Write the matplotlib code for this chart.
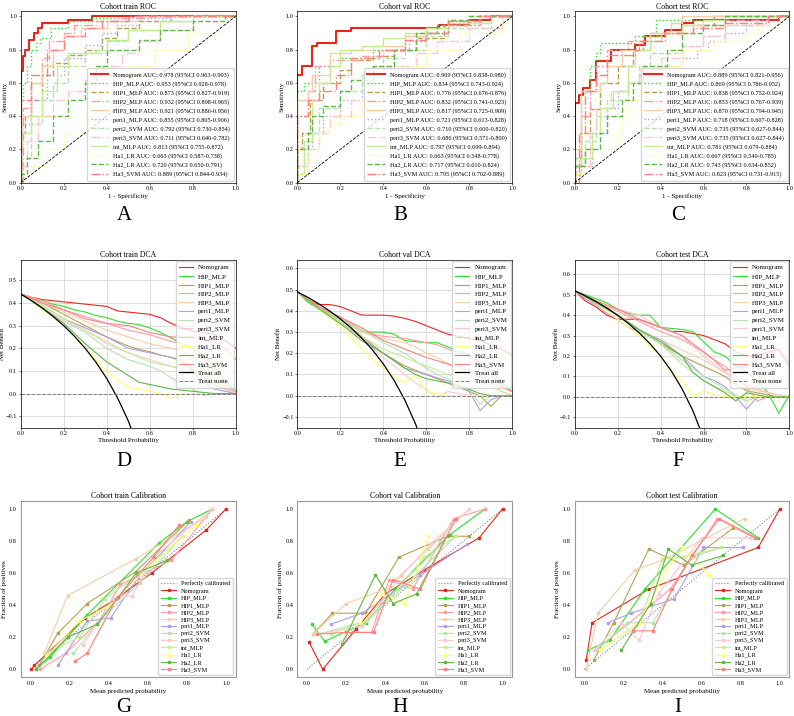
import matplotlib
matplotlib.use("Agg")
import matplotlib.pyplot as plt

plt.rcParams['font.family'] = ['Liberation Serif', 'DejaVu Serif']

models = ["Nomogram", "HIP_MLP", "HIP1_MLP", "HIP2_MLP", "HIP3_MLP", "peri1_MLP",
          "peri2_SVM", "peri3_SVM", "int_MLP", "Ha1_LR", "Ha2_LR", "Ha3_SVM"]
colors = ["#e8261e", "#2ee02e", "#b5a24e", "#ff9ca6", "#f7cfa6", "#b29ee2",
          "#b6e2b4", "#ffc6cf", "#c4ec92", "#ffff70", "#5fb845", "#ff8080"]
roc_styles = ["-", ":", "--", "-.", "-", ":", "--", "-.", "-", ":", "--", "-."]

# ---------------- AUC values ----------------
auc_train = [0.978, 0.953, 0.873, 0.932, 0.921, 0.855, 0.792, 0.711, 0.813, 0.663, 0.720, 0.889]
ci_lo_train = [0.963, 0.928, 0.827, 0.898, 0.886, 0.805, 0.730, 0.640, 0.755, 0.587, 0.650, 0.844]
ci_hi_train = [0.993, 0.978, 0.919, 0.965, 0.956, 0.906, 0.854, 0.782, 0.872, 0.738, 0.791, 0.934]
auc_val = [0.909, 0.834, 0.776, 0.832, 0.817, 0.721, 0.710, 0.686, 0.797, 0.663, 0.717, 0.795]
ci_lo_val = [0.838, 0.743, 0.676, 0.741, 0.725, 0.613, 0.600, 0.571, 0.699, 0.548, 0.610, 0.702]
ci_hi_val = [0.980, 0.924, 0.876, 0.923, 0.909, 0.828, 0.820, 0.800, 0.894, 0.778, 0.824, 0.889]
auc_test = [0.889, 0.869, 0.838, 0.853, 0.870, 0.718, 0.735, 0.735, 0.781, 0.667, 0.743, 0.823]
ci_lo_test = [0.821, 0.786, 0.752, 0.767, 0.794, 0.607, 0.627, 0.627, 0.679, 0.549, 0.634, 0.731]
ci_hi_test = [0.956, 0.952, 0.924, 0.939, 0.945, 0.828, 0.844, 0.844, 0.884, 0.785, 0.852, 0.915]

# ---------------- ROC curves (fpr at which tpr jumps, tpr after jump) ----------------
roc_train_fpr = [
    [0, 0, 0.01, 0.02, 0.04, 0.06, 0.08, 0.10, 0.22, 0.33, 1.0],
    [0, 0, 0.01, 0.03, 0.05, 0.07, 0.09, 0.14, 0.22, 0.33, 0.55, 1.0],
    [0, 0, 0.02, 0.05, 0.10, 0.15, 0.22, 0.30, 0.38, 0.45, 0.55, 0.70, 1.0],
    [0, 0.01, 0.05, 0.10, 0.13, 0.20, 0.25, 0.35, 0.45, 0.60, 1.0],
    [0, 0, 0.05, 0.10, 0.15, 0.20, 0.28, 0.40, 0.55, 1.0],
    [0, 0, 0.05, 0.12, 0.20, 0.30, 0.38, 0.45, 0.55, 0.70, 1.0],
    [0, 0, 0.05, 0.10, 0.15, 0.22, 0.30, 0.40, 0.50, 0.65, 0.80, 1.0],
    [0, 0, 0.03, 0.08, 0.15, 0.22, 0.30, 0.38, 0.47, 0.55, 0.65, 0.80, 1.0],
    [0, 0, 0.05, 0.10, 0.17, 0.22, 0.35, 0.40, 0.50, 0.65, 0.80, 1.0],
    [0, 0, 0.05, 0.12, 0.20, 0.30, 0.33, 0.40, 0.50, 0.62, 0.78, 0.92, 1.0],
    [0, 0, 0.03, 0.08, 0.15, 0.22, 0.30, 0.35, 0.40, 0.55, 0.65, 0.80, 0.95, 1.0],
    [0, 0, 0.05, 0.12, 0.20, 0.30, 0.38, 0.50, 1.0],
]
roc_train_tpr = [
    [0, 0.67, 0.76, 0.80, 0.86, 0.90, 0.93, 0.96, 0.98, 1.0, 1.0],
    [0, 0.50, 0.60, 0.70, 0.80, 0.84, 0.87, 0.93, 0.97, 0.99, 1.0, 1.0],
    [0, 0.30, 0.40, 0.50, 0.65, 0.72, 0.77, 0.80, 0.87, 0.93, 0.97, 1.0, 1.0],
    [0, 0.45, 0.60, 0.75, 0.85, 0.90, 0.95, 0.97, 0.99, 1.0, 1.0],
    [0, 0.40, 0.60, 0.70, 0.80, 0.88, 0.93, 0.97, 1.0, 1.0],
    [0, 0.35, 0.50, 0.65, 0.75, 0.83, 0.90, 0.95, 0.99, 1.0, 1.0],
    [0, 0.15, 0.35, 0.50, 0.60, 0.70, 0.78, 0.85, 0.92, 0.97, 1.0, 1.0],
    [0, 0.10, 0.25, 0.40, 0.50, 0.55, 0.62, 0.70, 0.78, 0.85, 0.92, 1.0, 1.0],
    [0, 0.30, 0.40, 0.55, 0.70, 0.78, 0.80, 0.86, 0.92, 0.97, 1.0, 1.0],
    [0, 0.0, 0.10, 0.20, 0.30, 0.40, 0.50, 0.60, 0.70, 0.80, 0.90, 1.0, 1.0],
    [0, 0.05, 0.15, 0.25, 0.40, 0.50, 0.60, 0.70, 0.80, 0.86, 0.92, 0.97, 1.0, 1.0],
    [0, 0.50, 0.65, 0.80, 0.88, 0.93, 0.97, 1.0, 1.0],
]
roc_val_fpr = [
    [0, 0, 0.02, 0.07, 0.09, 0.18, 0.25, 0.66, 0.80, 0.90, 1.0],
    [0, 0, 0.03, 0.10, 0.20, 0.35, 0.50, 0.60, 0.70, 0.85, 1.0],
    [0, 0, 0.02, 0.06, 0.12, 0.20, 0.25, 0.35, 0.45, 0.55, 0.68, 0.80, 1.0],
    [0, 0, 0.05, 0.08, 0.15, 0.30, 0.40, 0.50, 0.60, 0.70, 0.85, 1.0],
    [0, 0, 0.05, 0.07, 0.15, 0.25, 0.35, 0.50, 0.60, 0.70, 0.85, 1.0],
    [0, 0, 0.03, 0.07, 0.12, 0.20, 0.30, 0.35, 0.45, 0.52, 0.60, 0.70, 0.85, 1.0],
    [0, 0, 0.05, 0.10, 0.20, 0.30, 0.40, 0.50, 0.60, 0.70, 0.90, 1.0],
    [0, 0, 0.05, 0.10, 0.15, 0.25, 0.35, 0.45, 0.55, 0.65, 0.80, 0.95, 1.0],
    [0, 0, 0.03, 0.07, 0.10, 0.15, 0.20, 0.30, 0.40, 0.50, 0.60, 0.70, 0.90, 1.0],
    [0, 0, 0.05, 0.10, 0.15, 0.20, 0.30, 0.40, 0.50, 0.60, 0.75, 0.95, 1.0],
    [0, 0, 0.05, 0.07, 0.12, 0.20, 0.25, 0.35, 0.45, 0.55, 0.65, 0.70, 0.80, 1.0],
    [0, 0, 0.05, 0.10, 0.18, 0.25, 0.38, 0.50, 0.60, 0.70, 0.85, 1.0],
]
roc_val_tpr = [
    [0, 0.65, 0.70, 0.82, 0.84, 0.91, 0.93, 0.95, 0.98, 1.0, 1.0],
    [0, 0.55, 0.60, 0.70, 0.75, 0.80, 0.88, 0.93, 0.97, 1.0, 1.0],
    [0, 0.20, 0.30, 0.50, 0.60, 0.68, 0.74, 0.76, 0.80, 0.87, 0.95, 1.0, 1.0],
    [0, 0.40, 0.55, 0.70, 0.74, 0.76, 0.80, 0.86, 0.90, 0.95, 1.0, 1.0],
    [0, 0.50, 0.55, 0.65, 0.78, 0.80, 0.82, 0.88, 0.93, 0.97, 1.0, 1.0],
    [0, 0.10, 0.20, 0.30, 0.40, 0.50, 0.60, 0.70, 0.80, 0.85, 0.90, 0.95, 1.0, 1.0],
    [0, 0.10, 0.30, 0.45, 0.55, 0.65, 0.75, 0.80, 0.88, 0.93, 1.0, 1.0],
    [0, 0.05, 0.20, 0.30, 0.40, 0.50, 0.60, 0.70, 0.78, 0.85, 0.93, 1.0, 1.0],
    [0, 0.05, 0.25, 0.50, 0.60, 0.70, 0.80, 0.82, 0.87, 0.90, 0.93, 0.96, 1.0, 1.0],
    [0, 0.05, 0.20, 0.30, 0.35, 0.40, 0.50, 0.60, 0.70, 0.80, 0.90, 1.0, 1.0],
    [0, 0.20, 0.30, 0.40, 0.46, 0.55, 0.62, 0.70, 0.80, 0.90, 0.95, 0.98, 1.0, 1.0],
    [0, 0.40, 0.50, 0.55, 0.65, 0.75, 0.80, 0.86, 0.90, 0.97, 1.0, 1.0],
]
roc_test_fpr = [
    [0, 0, 0.02, 0.04, 0.07, 0.10, 0.17, 0.28, 0.33, 0.42, 0.50, 0.55, 0.95, 1.0],
    [0, 0, 0.03, 0.07, 0.10, 0.12, 0.28, 0.38, 0.65, 1.0],
    [0, 0, 0.03, 0.07, 0.12, 0.20, 0.27, 0.32, 0.40, 0.50, 0.65, 1.0],
    [0, 0, 0.03, 0.07, 0.10, 0.15, 0.25, 0.35, 0.55, 0.70, 0.90, 1.0],
    [0, 0, 0.03, 0.12, 0.15, 0.22, 0.35, 0.45, 0.50, 1.0],
    [0, 0, 0.08, 0.15, 0.20, 0.25, 0.30, 0.40, 0.50, 0.57, 0.62, 0.70, 0.80, 0.90, 1.0],
    [0, 0, 0.05, 0.10, 0.15, 0.25, 0.30, 0.35, 0.50, 0.60, 0.70, 0.85, 1.0],
    [0, 0, 0.07, 0.10, 0.17, 0.25, 0.30, 0.40, 0.50, 0.60, 0.70, 0.90, 1.0],
    [0, 0, 0.03, 0.08, 0.12, 0.18, 0.25, 0.28, 0.35, 0.40, 0.50, 0.60, 0.70, 1.0],
    [0, 0, 0.05, 0.20, 0.22, 0.25, 0.30, 0.38, 0.50, 0.65, 0.80, 0.85, 0.95, 1.0],
    [0, 0, 0.05, 0.12, 0.15, 0.22, 0.27, 0.32, 0.43, 0.50, 0.60, 0.70, 1.0],
    [0, 0.02, 0.05, 0.10, 0.15, 0.28, 0.30, 0.42, 0.55, 0.70, 0.90, 1.0],
]
roc_test_tpr = [
    [0, 0.48, 0.53, 0.57, 0.62, 0.73, 0.80, 0.83, 0.88, 0.92, 0.96, 0.98, 1.0, 1.0],
    [0, 0.15, 0.55, 0.70, 0.78, 0.84, 0.88, 0.98, 1.0, 1.0],
    [0, 0.10, 0.30, 0.44, 0.60, 0.70, 0.80, 0.88, 0.90, 0.95, 1.0, 1.0],
    [0, 0.10, 0.40, 0.55, 0.70, 0.80, 0.85, 0.90, 0.95, 0.98, 1.0, 1.0],
    [0, 0.20, 0.55, 0.60, 0.70, 0.80, 0.90, 0.96, 1.0, 1.0],
    [0, 0.10, 0.30, 0.45, 0.55, 0.60, 0.65, 0.70, 0.75, 0.80, 0.85, 0.90, 0.95, 1.0, 1.0],
    [0, 0.10, 0.25, 0.40, 0.50, 0.60, 0.70, 0.78, 0.82, 0.88, 0.95, 1.0, 1.0],
    [0, 0.10, 0.30, 0.45, 0.55, 0.60, 0.68, 0.75, 0.82, 0.88, 0.95, 1.0, 1.0],
    [0, 0.05, 0.15, 0.30, 0.45, 0.55, 0.70, 0.80, 0.85, 0.90, 0.95, 0.98, 1.0, 1.0],
    [0, 0.05, 0.20, 0.30, 0.40, 0.50, 0.60, 0.70, 0.80, 0.85, 0.90, 0.95, 1.0, 1.0],
    [0, 0.10, 0.20, 0.30, 0.40, 0.50, 0.60, 0.70, 0.80, 0.90, 0.95, 1.0, 1.0],
    [0, 0.30, 0.55, 0.65, 0.77, 0.80, 0.85, 0.90, 0.93, 0.96, 1.0, 1.0],
]

# ---------------- DCA net benefit ----------------
dca_thr = [0.0, 0.05, 0.1, 0.15, 0.2, 0.25, 0.3, 0.35, 0.4, 0.45, 0.5,
           0.55, 0.6, 0.65, 0.7, 0.75, 0.8, 0.85, 0.9, 0.95, 1.0]
dca_train = [
    [.44, .425, .415, .41, .405, .40, .395, .39, .385, .365, .36, .355, .35, .335, .31, .29, .275, .27, .26, .235, .20],
    [.44, .42, .41, .395, .385, .37, .36, .345, .335, .32, .31, .305, .29, .27, .245, .22, .20, .17, .12, .06, .01],
    [.44, .42, .40, .375, .35, .325, .30, .275, .25, .23, .21, .195, .185, .17, .16, .14, .11, .07, .04, .02, .0],
    [.44, .425, .41, .39, .37, .355, .34, .325, .31, .295, .28, .27, .26, .245, .23, .22, .19, .15, .10, .05, .0],
    [.44, .42, .40, .38, .36, .34, .32, .30, .28, .265, .25, .235, .22, .21, .20, .19, .15, .10, .06, .03, .0],
    [.44, .415, .39, .36, .33, .31, .29, .27, .25, .225, .20, .19, .18, .17, .16, .15, .10, .05, .02, .01, .0],
    [.44, .41, .38, .35, .32, .295, .27, .235, .20, .175, .15, .135, .12, .10, .07, .04, .02, -.01, .0, .0, .0],
    [.44, .41, .38, .35, .32, .30, .28, .25, .22, .20, .18, .165, .15, .135, .12, .11, .10, .05, .03, .02, .0],
    [.44, .415, .39, .36, .33, .305, .28, .255, .23, .205, .18, .16, .14, .13, .12, .11, .10, .08, .05, .03, .02],
    [.44, .41, .37, .34, .30, .25, .20, .15, .10, .06, .03, .02, .01, .0, -.02, .0, .0, .0, .0, .0, .0],
    [.44, .41, .38, .345, .31, .265, .22, .18, .14, .11, .08, .05, .04, .03, .02, .015, .01, .005, .0, .0, .0],
    [.44, .42, .40, .385, .37, .35, .33, .32, .31, .305, .30, .285, .27, .26, .25, .25, .25, .24, .23, .20, .15],
]
dca_val = [
    [.49, .45, .43, .43, .42, .40, .38, .38, .38, .375, .365, .35, .33, .31, .29, .28, .27, .26, .24, .22, .19],
    [.49, .44, .41, .39, .36, .33, .30, .30, .30, .29, .26, .255, .25, .25, .23, .21, .19, .16, .12, .06, .02],
    [.49, .45, .41, .385, .36, .32, .28, .24, .20, .17, .14, .12, .10, .08, .06, .04, .02, .0, -.05, .0, .0],
    [.49, .45, .42, .395, .37, .34, .31, .29, .28, .275, .27, .26, .25, .24, .22, .20, .18, .15, .10, .05, .02],
    [.49, .455, .42, .39, .36, .33, .30, .285, .27, .26, .25, .23, .20, .18, .15, .12, .10, .07, .05, .02, .0],
    [.49, .45, .41, .38, .35, .31, .27, .235, .20, .165, .13, .115, .10, .085, .07, .05, .02, -.07, -.02, .0, .0],
    [.49, .455, .42, .39, .36, .335, .31, .28, .25, .225, .20, .165, .13, .10, .08, .05, .03, -.04, .0, .0, .0],
    [.49, .45, .41, .375, .34, .305, .27, .225, .18, .14, .10, .06, .03, -.01, .02, .01, .0, .0, .0, .0, .0],
    [.49, .45, .41, .38, .35, .315, .28, .25, .22, .20, .18, .16, .14, .12, .10, .09, .08, .06, .05, .02, .0],
    [.49, .45, .41, .37, .33, .275, .22, .175, .13, .09, .06, .10, .02, .01, .0, .0, .0, .0, .0, .0, .0],
    [.49, .45, .41, .375, .34, .30, .26, .23, .20, .165, .13, .10, .08, .07, .06, .045, .03, .01, .0, .0, .0],
    [.49, .455, .42, .395, .37, .345, .32, .29, .26, .24, .22, .20, .18, .165, .15, .135, .12, .09, .06, .04, .02],
]
dca_test = [
    [.52, .47, .44, .40, .38, .38, .38, .36, .34, .32, .32, .31, .30, .28, .26, .22, .20, .20, .22, .23, .15],
    [.52, .50, .48, .46, .43, .41, .40, .40, .34, .335, .33, .32, .27, .22, .20, .15, .12, .08, .02, -.08, .01],
    [.52, .49, .47, .435, .40, .365, .33, .295, .26, .23, .20, .175, .15, .125, .10, .06, .03, .02, .01, .0, .0],
    [.52, .49, .46, .44, .42, .395, .37, .345, .32, .30, .28, .25, .22, .18, .15, .10, .05, -.02, .0, .0, .0],
    [.52, .49, .46, .43, .40, .365, .33, .305, .28, .255, .23, .205, .18, .15, .12, .08, .05, .03, .02, .01, .0],
    [.52, .48, .45, .41, .38, .34, .32, .30, .28, .24, .20, .15, .10, .08, .05, .0, -.06, .0, .0, .0, .0],
    [.52, .49, .46, .43, .40, .36, .32, .29, .26, .22, .18, .14, .10, .07, .04, .01, -.02, .0, .0, .0, .0],
    [.52, .49, .46, .445, .43, .415, .40, .37, .34, .32, .30, .25, .20, .16, .12, .09, .06, .04, .02, .01, .0],
    [.52, .495, .47, .435, .40, .365, .33, .295, .26, .21, .16, .12, .08, .05, .03, .0, -.02, .0, .0, .0, .0],
    [.52, .49, .46, .42, .38, .34, .30, .25, .20, .12, .08, .0, .03, .01, .0, .0, .0, .0, .0, .0, .0],
    [.52, .49, .46, .43, .40, .365, .33, .30, .27, .235, .20, .12, .08, .05, .02, -.02, .02, .01, .0, .0, .0],
    [.52, .495, .47, .45, .43, .405, .38, .36, .34, .32, .30, .26, .22, .18, .13, .14, .15, .18, .20, .24, .16],
]
treat_all_thr = [0.0, 0.05, 0.1, 0.15, 0.2, 0.25, 0.3, 0.35, 0.4, 0.45, 0.5, 0.55, 0.6]
treat_all_train = [.44, .4105, .3778, .3412, .30, .2533, .20, .1385, .0667, -.0182, -.12, -.2444, -.40]
treat_all_val = [.49, .4632, .4333, .40, .3625, .32, .2714, .2154, .15, .0727, -.02, -.1333, -.275]
treat_all_test = [.52, .4947, .4667, .4353, .40, .36, .3143, .2615, .20, .1273, .04, -.0667, -.20]

# ---------------- Calibration ----------------
cal_train_x = [
    [0.005, 0.02, 0.28, 0.45, 0.62, 0.90, 1.0],
    [0.026, 0.10, 0.29, 0.66, 0.80, 0.93],
    [0.045, 0.14, 0.29, 0.54, 0.81],
    [0.05, 0.18, 0.35, 0.46, 0.72, 0.93],
    [0.07, 0.19, 0.54, 0.90],
    [0.14, 0.29, 0.41, 0.55, 0.82],
    [0.22, 0.35, 0.56, 0.78],
    [0.27, 0.42, 0.52, 0.63, 0.93],
    [0.08, 0.25, 0.38, 0.56, 0.78],
    [0.08, 0.25, 0.41, 0.60, 0.85],
    [0.03, 0.19, 0.34, 0.45, 0.54, 0.70],
    [0.23, 0.29, 0.44, 0.63, 0.76],
]
cal_train_y = [
    [0.0, 0.025, 0.32, 0.45, 0.60, 0.87, 1.0],
    [0.0, 0.075, 0.34, 0.79, 0.92, 1.0],
    [0.025, 0.225, 0.41, 0.61, 0.93],
    [0.0, 0.10, 0.30, 0.53, 0.68, 1.0],
    [0.10, 0.46, 0.69, 0.95],
    [0.025, 0.30, 0.32, 0.57, 0.92],
    [0.10, 0.30, 0.54, 0.83],
    [0.15, 0.44, 0.46, 0.70, 1.0],
    [0.10, 0.20, 0.44, 0.60, 0.83],
    [0.08, 0.30, 0.40, 0.63, 0.90],
    [0.0, 0.20, 0.28, 0.45, 0.60, 0.68],
    [0.05, 0.10, 0.44, 0.70, 0.90],
]
cal_val_x = [
    [0.01, 0.08, 0.25, 0.40, 0.60, 0.88, 1.0],
    [0.025, 0.09, 0.30, 0.45, 0.73, 0.91],
    [0.03, 0.13, 0.30, 0.47, 0.72, 0.83],
    [0.20, 0.33, 0.42, 0.54, 0.75, 0.91],
    [0.03, 0.20, 0.40, 0.62, 0.83],
    [0.12, 0.28, 0.58, 0.82],
    [0.06, 0.30, 0.50, 0.76],
    [0.05, 0.28, 0.48, 0.63, 0.83],
    [0.12, 0.30, 0.44, 0.60, 0.76],
    [0.27, 0.39, 0.50, 0.62],
    [0.18, 0.35, 0.44, 0.56, 0.72],
    [0.05, 0.20, 0.34, 0.44, 0.58, 0.76],
]
cal_val_y = [
    [0.17, 0.0, 0.25, 0.47, 0.62, 0.82, 1.0],
    [0.28, 0.175, 0.29, 0.50, 0.84, 1.0],
    [0.22, 0.35, 0.35, 0.70, 0.83, 0.83],
    [0.23, 0.23, 0.56, 0.50, 0.94, 1.0],
    [0.22, 0.41, 0.50, 0.75, 1.0],
    [0.28, 0.35, 0.59, 0.78],
    [0.22, 0.30, 0.52, 0.83],
    [0.22, 0.27, 0.58, 0.78, 1.0],
    [0.22, 0.30, 0.47, 0.70, 0.83],
    [0.29, 0.47, 0.41, 0.83],
    [0.16, 0.59, 0.41, 0.47, 0.84],
    [0.22, 0.23, 0.23, 0.56, 0.50, 0.94],
]
cal_test_x = [
    [0.01, 0.04, 0.33, 0.89, 1.0],
    [0.02, 0.13, 0.31, 0.67, 0.89],
    [0.05, 0.15, 0.33, 0.51, 0.76],
    [0.06, 0.44, 0.55, 0.68, 0.87],
    [0.01, 0.07, 0.26, 0.40, 0.82],
    [0.12, 0.24, 0.46, 0.61, 0.81],
    [0.06, 0.22, 0.35, 0.55, 0.70],
    [0.05, 0.19, 0.28, 0.38, 0.60, 0.85],
    [0.08, 0.28, 0.40, 0.50, 0.70],
    [0.08, 0.28, 0.42, 0.50, 0.64],
    [0.19, 0.34, 0.43, 0.55, 0.71],
    [0.25, 0.35, 0.45, 0.55, 0.69, 0.88],
]
cal_test_y = [
    [0.06, 0.29, 0.50, 0.76, 1.0],
    [0.12, 0.18, 0.50, 1.0, 0.82],
    [0.06, 0.29, 0.75, 0.65, 0.88],
    [0.12, 0.50, 0.70, 0.94, 0.82],
    [0.0, 0.35, 0.62, 0.68, 0.94],
    [0.29, 0.35, 0.44, 0.76, 0.76],
    [0.12, 0.29, 0.29, 0.70, 0.76],
    [0.12, 0.29, 0.18, 0.47, 0.82, 0.82],
    [0.12, 0.29, 0.69, 0.70, 0.76],
    [0.12, 0.29, 0.62, 0.76, 0.59],
    [0.12, 0.41, 0.75, 0.65, 0.71],
    [0.24, 0.24, 0.50, 0.71, 0.94, 0.82],
]

cohorts = ["train", "val", "test"]
panel_letters = [["A", "B", "C"], ["D", "E", "F"], ["G", "H", "I"]]

W, H = 794, 716
fig = plt.figure(figsize=(W / 100, H / 100), dpi=100)


def rect(left, top, w, h):
    return [left / W, 1 - (top + h) / H, w / W, h / H]


col_left = [20.7, 297.3, 574.5]
AXW = 215
TICK_FS = 4.5
LAB_FS = 5.0
TITLE_FS = 5.6


def style_ticks(ax):
    ax.tick_params(labelsize=TICK_FS, length=1.5, width=0.4, pad=1.2)


roc_data = [(roc_train_fpr, roc_train_tpr, auc_train, ci_lo_train, ci_hi_train),
            (roc_val_fpr, roc_val_tpr, auc_val, ci_lo_val, ci_hi_val),
            (roc_test_fpr, roc_test_tpr, auc_test, ci_lo_test, ci_hi_test)]
dca_data = [(dca_train, treat_all_train), (dca_val, treat_all_val), (dca_test, treat_all_test)]
cal_data = [(cal_train_x, cal_train_y), (cal_val_x, cal_val_y), (cal_test_x, cal_test_y)]

for c in range(3):
    # ---------- ROC ----------
    ax = fig.add_axes(rect(col_left[c], 10.5, AXW, 172.2))
    fprs, tprs, aucs, los, his = roc_data[c]
    for i, m in enumerate(models):
        lw = 1.5 if i == 0 else 1.0
        ax.plot(fprs[i], tprs[i], drawstyle='steps-post', color=colors[i],
                ls=roc_styles[i], lw=lw,
                label=f"{m} AUC: {aucs[i]:.3f} (95%CI {los[i]:.3f}-{his[i]:.3f})")
    ax.plot([0, 1], [0, 1], color='black', ls='--', lw=0.6)
    ax.set_xlim(0, 1)
    ax.set_ylim(0, 1.035)
    ax.set_title(f"Cohort {cohorts[c]} ROC", fontsize=TITLE_FS, pad=1.2)
    ax.set_xlabel("1 - Specificity", fontsize=LAB_FS, labelpad=1.5)
    ax.set_ylabel("Sensitivity", fontsize=LAB_FS, labelpad=1.0)
    style_ticks(ax)
    for s in ax.spines.values():
        s.set_linewidth(0.5)
    ax.legend(loc='lower right', fontsize=4.5, labelspacing=0.52, handlelength=2.8,
              borderpad=0.6, frameon=True, framealpha=0.8, edgecolor='#cccccc',
              borderaxespad=0.3)

    # ---------- DCA ----------
    ax = fig.add_axes(rect(col_left[c], 260.0, AXW, 167.5))
    nbs, tall = dca_data[c]
    ax.grid(True, color='#d8d8d8', lw=0.6)
    ax.set_axisbelow(True)
    for i, m in enumerate(models):
        ax.plot(dca_thr, nbs[i], color=colors[i], lw=0.8, label=m)
    ax.plot(treat_all_thr, tall, color='black', lw=0.9, label="Treat all")
    ax.plot([0, 1], [0, 0], color='gray', ls='--', lw=0.7, label="Treat none")
    ax.set_xlim(0, 1)
    ax.set_ylim(-0.15, tall[0] + 0.15)
    ax.set_title(f"Cohort {cohorts[c]} DCA", fontsize=TITLE_FS, pad=2)
    ax.set_xlabel("Threshold Probability", fontsize=LAB_FS, labelpad=1.5)
    ax.set_ylabel("Net Benefit", fontsize=LAB_FS, labelpad=0.5)
    style_ticks(ax)
    for s in ax.spines.values():
        s.set_linewidth(0.5)
    ax.legend(loc='upper right', fontsize=5.0, labelspacing=0.42, handlelength=2.0,
              borderpad=0.45, frameon=True, framealpha=0.8, edgecolor='#cccccc',
              borderaxespad=0.2)

    # ---------- Calibration ----------
    ax = fig.add_axes(rect(col_left[c], 501.0, AXW, 176.3))
    xs, ys = cal_data[c]
    ax.plot([0, 1], [0, 1], color='gray', ls=':', lw=0.8, label="Perfectly calibrated")
    for i, m in enumerate(models):
        ax.plot(xs[i], ys[i], marker='s', ms=1.8, color=colors[i], lw=0.8, label=m)
    ax.set_xlim(-0.05, 1.05)
    ax.set_ylim(-0.05, 1.05)
    ax.set_title(f"Cohort {cohorts[c]} Calibration", fontsize=TITLE_FS, pad=2)
    ax.set_xlabel("Mean predicted probability", fontsize=LAB_FS, labelpad=1.5)
    ax.set_ylabel("Fraction of positives", fontsize=LAB_FS, labelpad=1.5)
    ax.tick_params(labelsize=TICK_FS, length=0, pad=3)
    for s in ax.spines.values():
        s.set_color('#999999')
        s.set_linewidth(0.8)
    ax.legend(loc='lower right', fontsize=4.5, labelspacing=0.28, handlelength=2.4,
              borderpad=0.45, frameon=True, framealpha=0.8, edgecolor='#cccccc',
              borderaxespad=0.4)

# panel letters
letter_x = [124, 400, 678]
letter_y = [215, 462, 708]
for r in range(3):
    for c in range(3):
        fig.text(letter_x[c] / W, 1 - letter_y[r] / H, panel_letters[r][c],
                 fontsize=15, ha='center', va='center')

fig.savefig("out.png", dpi=100)
